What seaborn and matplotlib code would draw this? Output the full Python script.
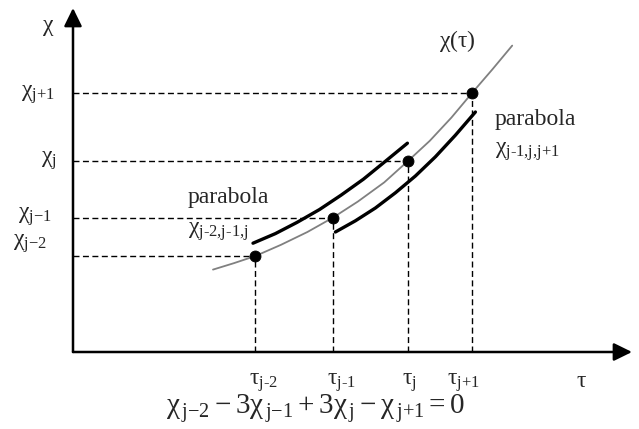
import numpy as np
import pandas as pd
import seaborn as sns
import matplotlib.pyplot as plt

# nodes on the curve (tau_j, chi_j)
tau_nodes = [2.28, 3.25, 4.19, 4.99]
chi_nodes = [1.20, 1.68, 2.39, 3.24]
tau_labels = [r"$\tau_{\text{j-2}}$", r"$\tau_{\text{j-1}}$", r"$\tau_{\text{j}}$", r"$\tau_{\text{j+1}}$"]
chi_labels = [r"$\chi_{\text{j−2}}$", r"$\chi_{\text{j−1}}$", r"$\chi_{\text{j}}$", r"$\chi_{\text{j+1}}$"]

# the true curve chi(tau)
tau_curve = [1.75, 2.01, 2.28, 2.60, 2.93, 3.25, 3.56, 3.89, 4.19, 4.46, 4.73, 4.99, 5.24, 5.49]
chi_curve = [1.03, 1.11, 1.20, 1.34, 1.50, 1.68, 1.88, 2.12, 2.39, 2.64, 2.93, 3.24, 3.53, 3.83]

# parabola j-2,j-1,j (above the curve)
tau_par1 = [2.25, 2.53, 2.80, 3.08, 3.35, 3.63, 3.90, 4.18]
chi_par1 = [1.36, 1.48, 1.62, 1.78, 1.96, 2.16, 2.38, 2.61]

# parabola j-1,j,j+1 (below the curve)
tau_par2 = [3.28, 3.53, 3.78, 4.03, 4.28, 4.53, 4.78, 5.03]
chi_par2 = [1.50, 1.64, 1.80, 1.99, 2.20, 2.44, 2.71, 3.00]

sns.set_style("white")
plt.rcParams["font.family"] = ["Liberation Serif", "DejaVu Serif"]
plt.rcParams["mathtext.fontset"] = "custom"
plt.rcParams["mathtext.rm"] = "Liberation Serif"
plt.rcParams["mathtext.it"] = "Liberation Serif"
plt.rcParams["mathtext.bf"] = "Liberation Serif:bold"

W, H = 639, 429
fig = plt.figure(figsize=(W / 100, H / 100), dpi=100)
ax = fig.add_axes([73 / W, (H - 352) / H, (632 - 73) / W, (352 - 8) / H])
ax.set_xlim(0, 6.9875)
ax.set_ylim(0, 4.3)
ax.set_axis_off()

# axes with arrow heads
arrow = dict(arrowstyle="-|>,head_length=0.55,head_width=0.27", lw=1.8,
             color="black", shrinkA=0, shrinkB=0, mutation_scale=20)
ax.annotate("", xy=(1, 0), xycoords="axes fraction", xytext=(0, 0),
            textcoords="axes fraction", arrowprops=arrow)
ax.annotate("", xy=(0, 1), xycoords="axes fraction", xytext=(0, 0),
            textcoords="axes fraction", arrowprops=arrow)

# dashed guides
dash = (0, (4.3, 2.5))
ax.hlines(chi_nodes, 0, tau_nodes, colors="black", linestyles=dash, lw=1)
ax.vlines(tau_nodes, 0, chi_nodes, colors="black", linestyles=dash, lw=1)

sns.lineplot(x=tau_curve, y=chi_curve, sort=False, estimator=None,
             color="#808080", lw=1.3, ax=ax)
sns.lineplot(x=tau_par1, y=chi_par1, sort=False, estimator=None,
             color="black", lw=2.4, ax=ax)
sns.lineplot(x=tau_par2, y=chi_par2, sort=False, estimator=None,
             color="black", lw=2.4, ax=ax)
sns.scatterplot(x=tau_nodes, y=chi_nodes, s=62, color="black",
                edgecolor="black", zorder=5, ax=ax)

fs = 17
# chi labels on the vertical axis
chi_off = [(-18.7, 8.6), (-15, 0.5), (-11.5, 0), (-13, -1.5)]
for y, lab, off in zip(chi_nodes, chi_labels, chi_off):
    ax.annotate(lab, xy=(0, y), xytext=off, textcoords="offset points",
                ha="right", va="center", fontsize=fs, annotation_clip=False)

# tau labels under the horizontal axis
tau_off = [-4.3, -4.3, -4.3, -18]
for x, lab, dx in zip(tau_nodes, tau_labels, tau_off):
    ax.annotate(lab, xy=(x, 0), xytext=(dx, -13.5), textcoords="offset points",
                ha="left", va="top", fontsize=fs, annotation_clip=False)
ax.annotate(r"$\tau$", xy=(6.35, 0), xytext=(0, -13.5), textcoords="offset points",
            ha="center", va="top", fontsize=fs, annotation_clip=False)
ax.annotate(r"$\chi$", xy=(0, 4.05), xytext=(-18, 0), textcoords="offset points",
            ha="center", va="center", fontsize=fs, annotation_clip=False)

ax.text(4.8, 3.89, r"$\chi(\tau)$", ha="center", va="center", fontsize=fs)
ax.text(5.275, 2.90, "parabola", ha="left", va="center", fontsize=17)
ax.text(5.275, 2.51, r"$\chi_{\text{j-1,j,j+1}}$", ha="left", va="center", fontsize=fs)
ax.text(1.4375, 1.925, "parabola", ha="left", va="center", fontsize=17)
ax.text(1.4375, 1.50, r"$\chi_{\text{j-2,j-1,j}}$", ha="left", va="center", fontsize=fs)

fig.text(316 / W, 1 - 414 / H,
         r"$\chi_{\,\text{j−2}} - 3\chi_{\,\text{j−1}} + 3\chi_{\,\text{j}} - \chi_{\,\text{j+1}} = 0$",
         ha="center", va="baseline", fontsize=21)

fig.savefig("out.png", dpi=100)
